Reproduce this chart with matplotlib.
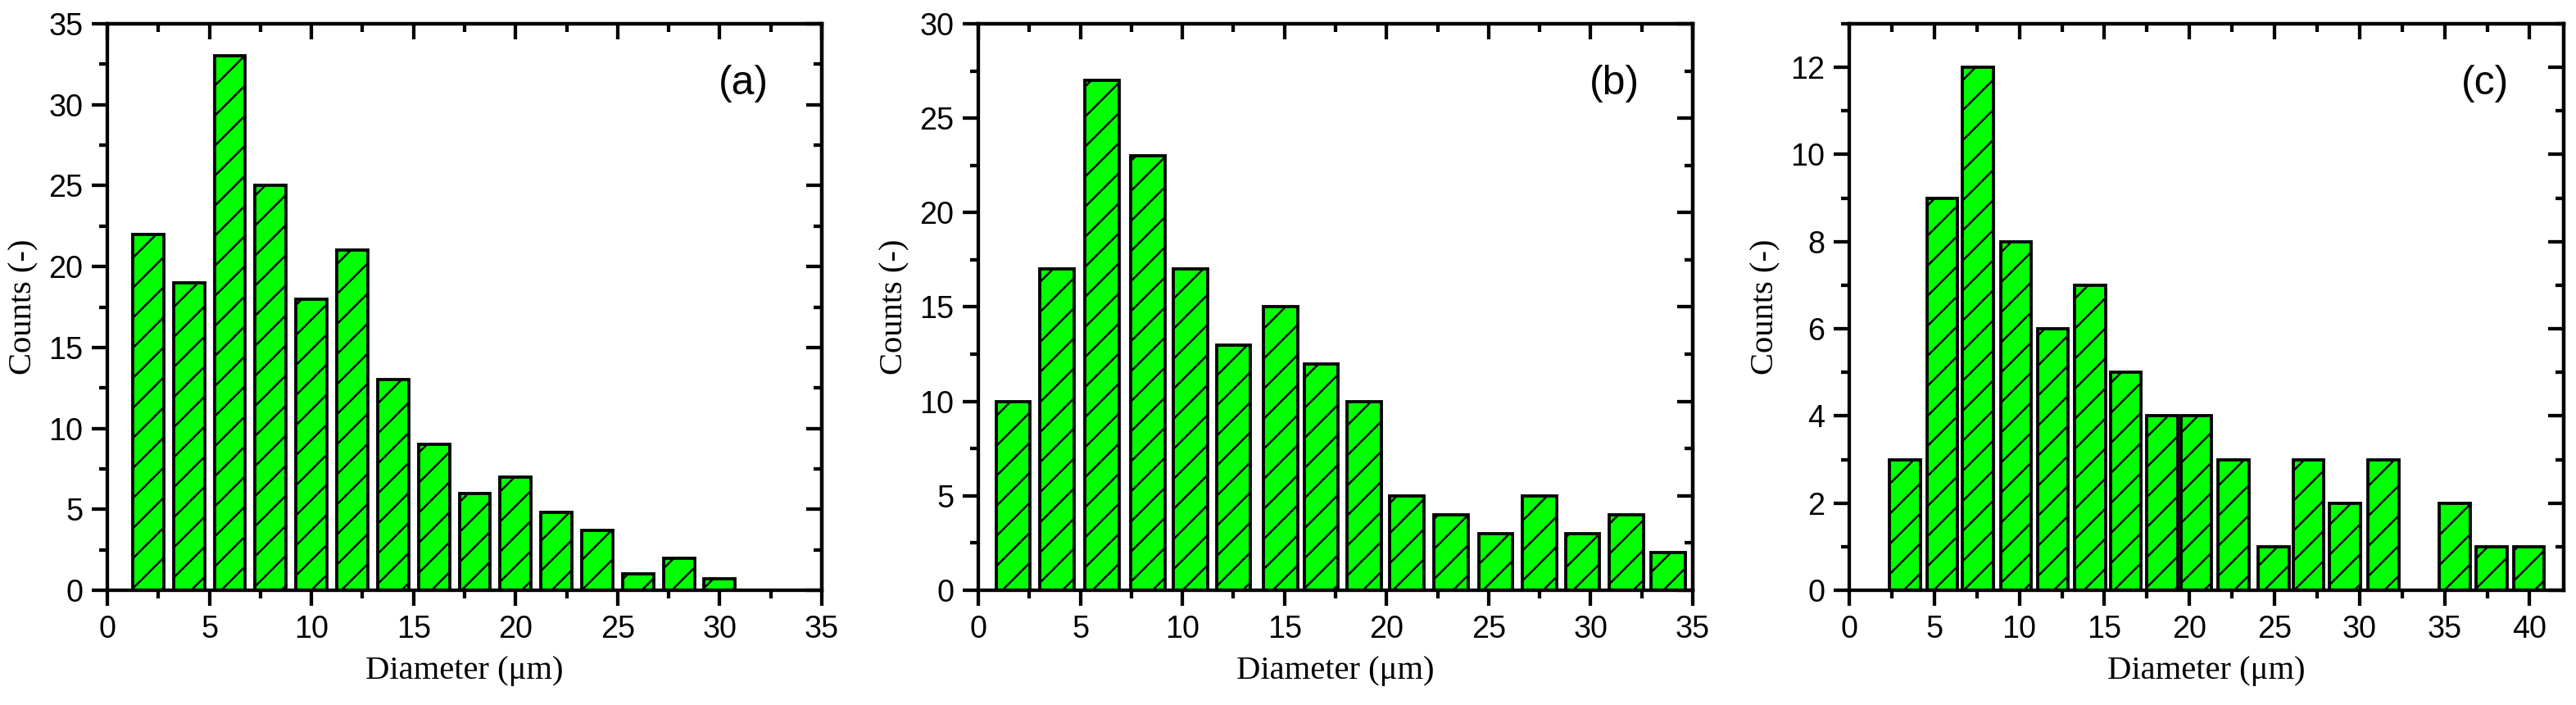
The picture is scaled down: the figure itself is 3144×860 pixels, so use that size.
import matplotlib.pyplot as plt
from matplotlib.ticker import MultipleLocator

plt.rcParams['font.family'] = 'Liberation Sans'
plt.rcParams['hatch.linewidth'] = 1.6

# bin centres (um) and counts
centers_a = [2, 4, 6, 8, 10, 12, 14, 16, 18, 20, 22, 24, 26, 28, 30]
counts_a = [22, 19, 33, 25, 18, 21, 13, 9, 6, 7, 4.8, 3.7, 1, 2, 0.7]

centers_b = [1.7, 3.85, 6.05, 8.3, 10.4, 12.5, 14.8, 16.8, 18.9, 21.0,
             23.15, 25.35, 27.5, 29.6, 31.75, 33.8]
counts_b = [10, 17, 27, 23, 17, 13, 15, 12, 10, 5, 4, 3, 5, 3, 4, 2]

centers_c = [3.27, 5.47, 7.57, 9.8, 11.96, 14.17, 16.25, 18.4, 20.4, 22.6,
             24.95, 27.0, 29.15, 31.4, 33.5, 35.6, 37.76, 39.95]
counts_c = [3, 9, 12, 8, 6, 7, 5, 4, 4, 3, 1, 3, 2, 3, 0, 2, 1, 1]

panels = [
    # centers, counts, bar width, xmax, ymax, y major, y minor, tag
    (centers_a, counts_a, 1.52, 35, 35, 5, 2.5, '(a)'),
    (centers_b, counts_b, 1.67, 35, 30, 5, 2.5, '(b)'),
    (centers_c, counts_c, 1.81, 42, 13, 2, 1, '(c)'),
]

dpi = 110
fig = plt.figure(figsize=(3144 / dpi, 860 / dpi), dpi=dpi)

lefts = [131, 1194, 2257]
lw = 2.8
for left, (cx, cy, w, xmax, ymax, ymaj, ymin, tag) in zip(lefts, panels):
    ax = fig.add_axes([left / 3144, 140 / 860, 872 / 3144, 691 / 860])
    ax.bar(cx, cy, width=w, color='#00ff00', edgecolor='black',
           linewidth=2.5, hatch='/')
    ax.set_xlim(0, xmax)
    ax.set_ylim(0, ymax)

    ax.xaxis.set_major_locator(MultipleLocator(5))
    ax.xaxis.set_minor_locator(MultipleLocator(2.5))
    ax.yaxis.set_major_locator(MultipleLocator(ymaj))
    ax.yaxis.set_minor_locator(MultipleLocator(ymin))
    ax.tick_params(which='both', direction='out', width=lw, labelsize=24.7,
                   pad=7)
    ax.tick_params(which='major', length=12.4)
    ax.tick_params(which='minor', length=6.5)
    for s in ax.spines.values():
        s.set_linewidth(lw)

    # inward ticks on top and right, no labels
    top = ax.secondary_xaxis('top')
    top.xaxis.set_major_locator(MultipleLocator(5))
    top.xaxis.set_minor_locator(MultipleLocator(2.5))
    top.tick_params(which='both', direction='in', width=lw, labeltop=False)
    top.tick_params(which='major', length=12.4)
    top.tick_params(which='minor', length=6.5)
    top.spines['top'].set_linewidth(lw)
    right = ax.secondary_yaxis('right')
    right.yaxis.set_major_locator(MultipleLocator(ymaj))
    right.yaxis.set_minor_locator(MultipleLocator(ymin))
    right.tick_params(which='both', direction='in', width=lw, labelright=False)
    right.tick_params(which='major', length=12.4)
    right.tick_params(which='minor', length=6.5)
    right.spines['right'].set_linewidth(lw)

    ax.set_xlabel('Diameter (μm)', family='Liberation Serif', fontsize=26.6)
    ax.xaxis.label.set_va('center')
    ax.xaxis.set_label_coords(0.5, -0.143)
    ax.set_ylabel('Counts (-)', family='Liberation Serif', fontsize=26.6)
    ax.yaxis.label.set_va('center')
    ax.yaxis.set_label_coords(-0.117, 0.5)

    ax.text(0.89, 0.895, tag, transform=ax.transAxes, ha='center',
            va='center', fontsize=32.7)

fig.savefig('out.png', dpi=dpi)
